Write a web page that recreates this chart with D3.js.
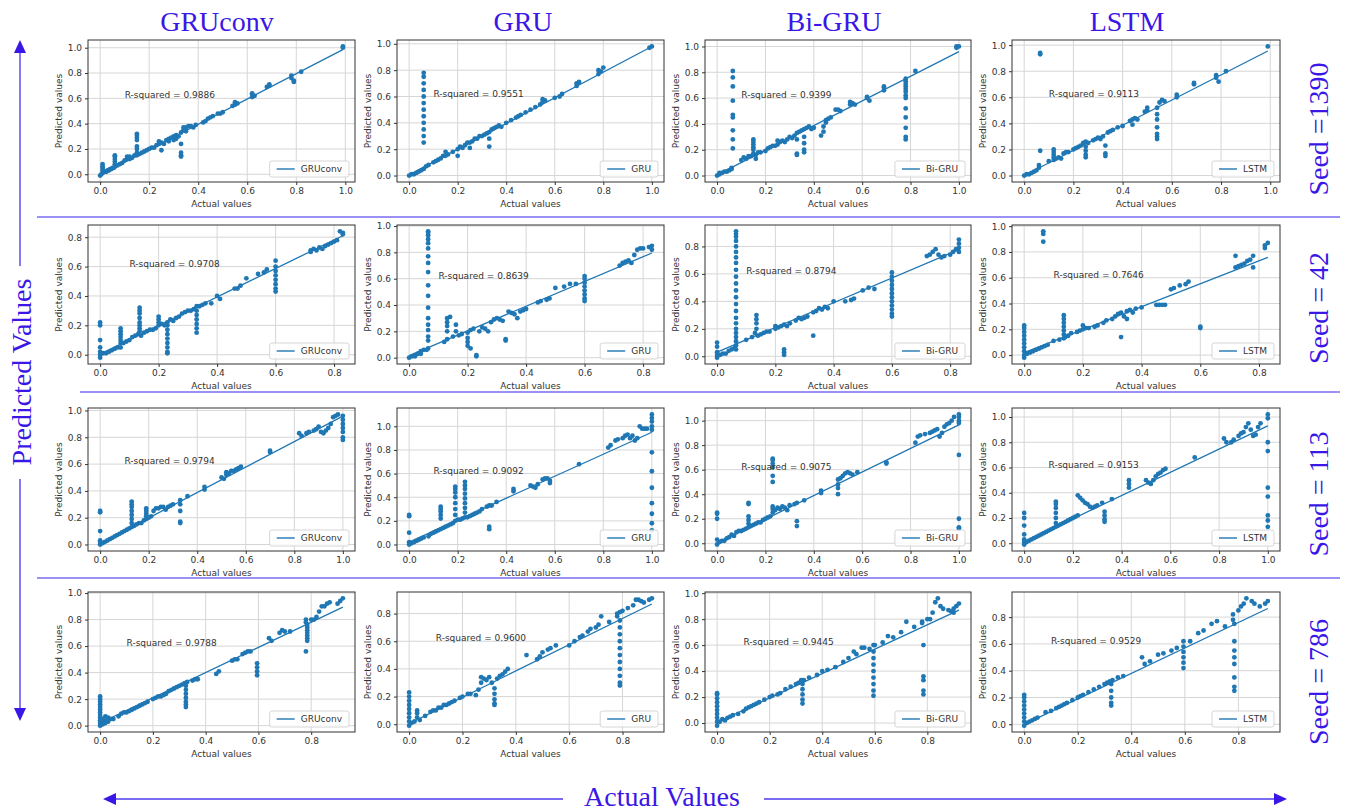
<!DOCTYPE html>
<html><head><meta charset="utf-8">
<script src="https://cdn.jsdelivr.net/npm/d3@7"></script>
<style>body{margin:0;background:#fff}svg{display:block}</style>
</head><body>
<svg id="chart" width="1345" height="811"></svg>
<script>
// ---------------- DATA ----------------
const models = ["GRUconv", "GRU", "Bi-GRU", "LSTM"];
const seeds = ["Seed =1390", "Seed = 42", "Seed = 113", "Seed = 786"];
const rSquared = [
  ["0.9886", "0.9551", "0.9399", "0.9113"],
  ["0.9708", "0.8639", "0.8794", "0.7646"],
  ["0.9794", "0.9092", "0.9075", "0.9153"],
  ["0.9788", "0.9600", "0.9445", "0.9529"]
];
// fitted regression line per panel: [slope, intercept]
const fitLines = [
  [[1.0, -0.005], [0.975, 0.005], [0.955, 0.005], [0.965, 0.0]],
  [[0.97, 0.005], [0.94, 0.015], [0.9, 0.03], [0.89, 0.02]],
  [[0.95, 0.008], [0.93, 0.02], [0.96, 0.005], [0.92, 0.01]],
  [[0.95, 0.02], [0.95, 0.005], [0.94, 0.005], [0.95, 0.0]]
];
const tickValues = [0, 0.2, 0.4, 0.6, 0.8, 1.0];
const xAxisLabel = "Actual values";
const yAxisLabel = "Predicted values";
const bigYLabel = "Predicted Values";
const bigXLabel = "Actual Values";

// scatter points [actual, predicted]
const s1390_GRUconv = [[0,-.01],[.005,0],[.01,.01],[.01,.03],[.01,.05],[.01,.06],[.01,.08],[.015,.02],[.02,.02],[.025,.02],[.03,.03],[.035,.03],[.04,.04],[.045,.04],[.05,.05],[.055,.05],[.06,.06],[.06,.08],[.06,.10],[.06,.12],[.06,.14],[.06,.15],[.07,.07],[.08,.08],[.09,.09],[.10,.11],[.11,.12],[.11,.14],[.12,.12],[.12,.14],[.13,.13],[.14,.15],[.15,.15],[.15,.17],[.15,.20],[.15,.22],[.15,.27],[.15,.29],[.15,.31],[.15,.32],[.16,.16],[.17,.17],[.18,.18],[.19,.19],[.20,.20],[.21,.21],[.22,.21],[.23,.23],[.24,.24],[.24,.26],[.25,.25],[.25,.19],[.26,.24],[.27,.27],[.28,.28],[.28,.26],[.29,.29],[.30,.30],[.30,.27],[.31,.31],[.31,.28],[.32,.30],[.33,.33],[.33,.24],[.33,.17],[.33,.15],[.33,.14],[.34,.35],[.34,.37],[.35,.37],[.35,.34],[.36,.38],[.37,.38],[.38,.37],[.39,.39],[.42,.41],[.43,.42],[.44,.44],[.45,.45],[.46,.46],[.48,.48],[.49,.48],[.50,.49],[.54,.54],[.55,.55],[.55,.57],[.56,.56],[.62,.61],[.62,.63],[.62,.64],[.63,.62],[.68,.69],[.69,.70],[.69,.71],[.78,.78],[.78,.76],[.79,.74],[.79,.73],[.82,.81],[.99,1.0],[.99,1.01]];
const s1390_GRU = [[0,0],[.01,.01],[.02,.01],[.03,.02],[.04,.03],[.05,.04],[.06,.05],[.06,.25],[.06,.3],[.06,.35],[.06,.4],[.06,.45],[.06,.5],[.06,.55],[.06,.6],[.06,.65],[.06,.7],[.06,.75],[.06,.78],[.07,.07],[.08,.08],[.1,.1],[.11,.11],[.12,.12],[.13,.13],[.14,.15],[.15,.15],[.15,.18],[.16,.16],[.18,.18],[.2,.2],[.2,.15],[.21,.22],[.22,.21],[.23,.23],[.24,.25],[.25,.25],[.25,.21],[.26,.26],[.27,.28],[.28,.28],[.29,.3],[.3,.3],[.31,.31],[.32,.32],[.33,.33],[.33,.28],[.33,.22],[.34,.35],[.35,.36],[.36,.37],[.37,.38],[.38,.37],[.4,.4],[.42,.42],[.44,.44],[.45,.45],[.46,.46],[.48,.48],[.5,.5],[.52,.52],[.54,.54],[.55,.56],[.55,.58],[.56,.57],[.6,.59],[.62,.6],[.63,.62],[.69,.68],[.69,.7],[.7,.71],[.78,.77],[.78,.8],[.79,.79],[.8,.82],[.99,.97],[1.0,.98]];
const s1390_BiGRU = [[0,0],[.01,.01],[.01,.02],[.02,.02],[.03,.03],[.04,.03],[.05,.04],[.06,.05],[.06,.06],[.065,.21],[.065,.28],[.065,.35],[.065,.45],[.065,.47],[.065,.58],[.065,.69],[.065,.76],[.065,.81],[.1,.12],[.11,.14],[.12,.13],[.13,.15],[.14,.15],[.15,.17],[.15,.2],[.15,.22],[.15,.24],[.15,.26],[.15,.28],[.16,.13],[.16,.16],[.17,.18],[.18,.18],[.2,.19],[.21,.21],[.22,.22],[.23,.23],[.24,.23],[.25,.24],[.25,.27],[.26,.26],[.27,.27],[.28,.26],[.29,.28],[.3,.3],[.31,.29],[.32,.31],[.33,.33],[.33,.28],[.33,.17],[.33,.16],[.34,.34],[.35,.35],[.36,.36],[.36,.3],[.36,.25],[.36,.2],[.36,.18],[.37,.37],[.38,.38],[.39,.36],[.4,.37],[.43,.31],[.44,.34],[.44,.38],[.45,.41],[.45,.43],[.46,.44],[.47,.45],[.49,.51],[.5,.51],[.51,.5],[.55,.55],[.55,.57],[.56,.56],[.57,.55],[.62,.61],[.62,.6],[.63,.58],[.69,.66],[.69,.68],[.69,.69],[.78,.75],[.78,.73],[.78,.71],[.78,.69],[.78,.67],[.78,.65],[.78,.62],[.78,.6],[.78,.52],[.78,.45],[.78,.37],[.78,.3],[.78,.28],[.82,.81],[.99,1.0],[.99,.99],[1.0,1.0]];
const s1390_LSTM = [[0,0],[.01,.01],[.02,.01],[.03,.02],[.04,.03],[.05,.04],[.06,.06],[.06,.08],[.065,.19],[.065,.93],[.065,.94],[.1,.11],[.12,.12],[.12,.14],[.12,.16],[.12,.18],[.12,.2],[.13,.13],[.14,.14],[.15,.13],[.16,.17],[.17,.18],[.18,.18],[.2,.2],[.21,.21],[.22,.22],[.23,.23],[.24,.25],[.25,.26],[.25,.22],[.25,.19],[.25,.16],[.25,.14],[.26,.25],[.28,.27],[.29,.28],[.3,.29],[.31,.28],[.32,.3],[.33,.23],[.33,.17],[.33,.15],[.34,.33],[.35,.34],[.36,.35],[.38,.37],[.4,.38],[.43,.42],[.44,.43],[.45,.44],[.44,.39],[.46,.43],[.49,.49],[.5,.5],[.5,.52],[.54,.52],[.54,.47],[.54,.43],[.54,.37],[.54,.32],[.54,.3],[.54,.28],[.55,.56],[.56,.58],[.57,.57],[.62,.6],[.62,.62],[.69,.7],[.69,.71],[.78,.77],[.78,.75],[.79,.72],[.82,.8],[.99,.99]];

const s42_GRUconv = [[0,-.02],[0,0],[0,.02],[0,.05],[0,.1],[0,.2],[0,.22],[.01,.01],[.02,.01],[.03,.02],[.04,.03],[.05,.04],[.06,.05],[.07,.05],[.07,.08],[.07,.1],[.07,.12],[.07,.14],[.07,.16],[.07,.18],[.08,.08],[.09,.09],[.1,.1],[.11,.12],[.12,.13],[.13,.14],[.135,.16],[.135,.18],[.135,.2],[.135,.22],[.135,.25],[.135,.28],[.135,.3],[.135,.32],[.14,.13],[.15,.15],[.16,.16],[.17,.17],[.18,.17],[.19,.18],[.2,.2],[.2,.22],[.2,.24],[.2,.26],[.21,.21],[.22,.2],[.23,.22],[.23,.2],[.23,.17],[.23,.14],[.23,.11],[.23,.08],[.23,.05],[.23,.02],[.23,.01],[.24,.24],[.25,.23],[.26,.25],[.27,.26],[.28,.28],[.29,.29],[.3,.3],[.31,.3],[.32,.31],[.33,.33],[.33,.3],[.33,.27],[.33,.24],[.33,.21],[.33,.18],[.33,.15],[.34,.33],[.35,.34],[.36,.35],[.38,.35],[.4,.4],[.41,.38],[.46,.45],[.47,.45],[.48,.47],[.5,.52],[.54,.55],[.56,.56],[.57,.58],[.6,.64],[.6,.6],[.6,.57],[.6,.54],[.6,.51],[.6,.48],[.6,.45],[.6,.43],[.72,.71],[.72,.7],[.73,.72],[.74,.71],[.75,.73],[.76,.72],[.77,.74],[.78,.75],[.79,.76],[.8,.77],[.81,.78],[.82,.84],[.83,.83],[.83,.82]];
const s42_GRU = [[0,0],[.01,.01],[.02,.01],[.02,.02],[.03,.03],[.04,.03],[.04,.05],[.05,.06],[.06,.06],[.065,.07],[.065,.13],[.065,.16],[.065,.21],[.065,.25],[.065,.3],[.065,.38],[.065,.47],[.065,.55],[.065,.65],[.065,.72],[.065,.77],[.065,.83],[.065,.87],[.065,.9],[.065,.93],[.065,.95],[.065,.96],[.12,.12],[.13,.14],[.13,.2],[.13,.24],[.13,.27],[.13,.3],[.14,.31],[.15,.16],[.16,.2],[.16,.25],[.17,.17],[.18,.18],[.2,.19],[.2,.15],[.2,.12],[.2,.09],[.21,.07],[.21,.21],[.22,.22],[.23,.01],[.23,.02],[.24,.2],[.25,.23],[.26,.22],[.27,.2],[.28,.27],[.29,.29],[.3,.3],[.31,.29],[.32,.28],[.33,.14],[.33,.13],[.34,.35],[.35,.34],[.36,.33],[.37,.3],[.38,.35],[.39,.36],[.4,.37],[.44,.42],[.45,.43],[.47,.44],[.48,.45],[.5,.53],[.53,.54],[.55,.56],[.57,.56],[.6,.62],[.6,.6],[.6,.57],[.6,.54],[.6,.51],[.6,.48],[.6,.45],[.6,.43],[.72,.7],[.73,.72],[.74,.73],[.75,.74],[.76,.72],[.77,.78],[.78,.82],[.79,.83],[.8,.83],[.82,.84],[.83,.85],[.83,.82]];
const s42_BiGRU = [[0,-.01],[0,.01],[0,.03],[0,.07],[0,.1],[.01,.01],[.02,.02],[.03,.02],[.04,.04],[.05,.05],[.06,.06],[.065,.05],[.065,.08],[.065,.11],[.065,.14],[.065,.17],[.065,.2],[.065,.24],[.065,.28],[.065,.33],[.065,.38],[.065,.43],[.065,.48],[.065,.53],[.065,.58],[.065,.63],[.065,.68],[.065,.72],[.065,.76],[.065,.8],[.065,.84],[.065,.87],[.065,.89],[.065,.91],[.1,.12],[.12,.14],[.13,.17],[.135,.2],[.135,.24],[.135,.27],[.135,.3],[.14,.15],[.15,.16],[.16,.17],[.17,.18],[.18,.18],[.2,.2],[.2,.22],[.21,.21],[.22,.22],[.23,.01],[.23,.03],[.23,.05],[.23,.23],[.24,.22],[.25,.24],[.27,.26],[.28,.28],[.29,.27],[.3,.28],[.31,.29],[.33,.15],[.33,.32],[.34,.33],[.35,.35],[.36,.34],[.37,.36],[.38,.35],[.4,.4],[.44,.4],[.46,.41],[.47,.42],[.5,.48],[.52,.5],[.54,.49],[.6,.61],[.6,.58],[.6,.55],[.6,.52],[.6,.49],[.6,.46],[.6,.43],[.6,.4],[.6,.37],[.6,.34],[.6,.31],[.6,.29],[.72,.73],[.73,.74],[.74,.76],[.75,.78],[.76,.74],[.77,.72],[.78,.73],[.8,.74],[.81,.76],[.82,.78],[.83,.85],[.83,.82],[.83,.79],[.83,.76]];
const s42_LSTM = [[0,-.02],[0,0],[0,.03],[0,.06],[0,.09],[0,.12],[0,.15],[0,.18],[0,.21],[0,.23],[.01,.01],[.02,.02],[.03,.03],[.04,.04],[.05,.05],[.06,.06],[.065,.88],[.065,.94],[.065,.96],[.07,.07],[.08,.08],[.1,.11],[.12,.12],[.135,.13],[.135,.16],[.135,.19],[.135,.22],[.135,.25],[.135,.28],[.135,.31],[.14,.14],[.15,.15],[.16,.17],[.18,.18],[.19,.19],[.2,.2],[.2,.23],[.21,.21],[.22,.21],[.24,.22],[.25,.23],[.27,.25],[.28,.27],[.3,.28],[.31,.3],[.32,.32],[.33,.14],[.33,.33],[.34,.3],[.35,.34],[.35,.28],[.36,.35],[.37,.33],[.38,.36],[.4,.37],[.45,.39],[.46,.39],[.47,.39],[.48,.39],[.5,.51],[.51,.52],[.53,.54],[.55,.55],[.56,.57],[.6,.21],[.6,.22],[.72,.77],[.72,.68],[.73,.69],[.74,.7],[.75,.71],[.76,.73],[.77,.74],[.78,.77],[.78,.68],[.82,.83],[.82,.85],[.83,.87]];

const s113_GRUconv = [[0,0],[0,.02],[0,.03],[0,.1],[0,.24],[0,.25],[.01,.01],[.02,.02],[.03,.03],[.04,.04],[.05,.05],[.06,.06],[.07,.07],[.08,.08],[.09,.09],[.1,.1],[.11,.11],[.12,.12],[.13,.13],[.13,.16],[.13,.19],[.13,.22],[.13,.25],[.13,.28],[.13,.3],[.13,.32],[.14,.14],[.15,.15],[.16,.16],[.17,.16],[.18,.18],[.19,.19],[.19,.21],[.19,.23],[.19,.25],[.19,.27],[.2,.2],[.21,.21],[.22,.25],[.23,.27],[.24,.27],[.25,.28],[.26,.28],[.27,.26],[.28,.28],[.29,.29],[.3,.3],[.33,.33],[.33,.3],[.33,.25],[.33,.17],[.33,.16],[.36,.36],[.43,.43],[.43,.41],[.5,.5],[.51,.49],[.52,.52],[.52,.54],[.53,.53],[.54,.55],[.55,.55],[.56,.56],[.57,.57],[.58,.58],[.7,.69],[.7,.7],[.82,.83],[.83,.81],[.85,.83],[.86,.84],[.88,.85],[.89,.86],[.9,.88],[.91,.84],[.92,.83],[.93,.85],[.94,.87],[.95,.9],[.96,.95],[.97,.96],[.98,.97],[1,.96],[1,.93],[1,.9],[1,.87],[1,.84],[1,.8],[1,.78]];
const s113_GRU = [[0,0],[0,.02],[0,.1],[0,.24],[0,.25],[.01,.01],[.02,.02],[.03,.03],[.04,.04],[.05,.05],[.06,.06],[.08,.07],[.09,.09],[.1,.1],[.11,.11],[.12,.12],[.13,.13],[.13,.22],[.13,.25],[.13,.28],[.13,.3],[.13,.32],[.14,.14],[.15,.15],[.16,.16],[.17,.17],[.18,.18],[.19,.2],[.19,.25],[.19,.3],[.19,.35],[.19,.4],[.19,.44],[.19,.47],[.19,.49],[.2,.21],[.21,.21],[.22,.22],[.23,.23],[.23,.27],[.23,.31],[.23,.35],[.23,.39],[.23,.43],[.23,.47],[.23,.5],[.23,.53],[.24,.23],[.25,.24],[.26,.25],[.27,.26],[.28,.27],[.29,.28],[.3,.3],[.32,.32],[.33,.33],[.33,.15],[.33,.13],[.34,.33],[.36,.36],[.43,.45],[.43,.47],[.5,.5],[.51,.49],[.52,.48],[.53,.51],[.55,.55],[.56,.56],[.57,.56],[.58,.54],[.58,.52],[.7,.68],[.82,.82],[.83,.84],[.85,.88],[.86,.89],[.88,.9],[.89,.92],[.9,.93],[.91,.9],[.92,.92],[.93,.88],[.94,.9],[.95,1.0],[.96,.98],[.97,.98],[.98,.98],[1,1.1],[1,1.07],[1,1.04],[1,1.0],[1,.97],[1,.78],[1,.62],[1,.48],[1,.35],[1,.26],[1,.18],[1,.12]];
const s113_BiGRU = [[0,-.01],[0,.03],[0,.2],[0,.24],[0,.25],[.01,.01],[.02,.02],[.03,.02],[.04,.04],[.05,.05],[.06,.07],[.07,.06],[.08,.09],[.09,.1],[.1,.1],[.11,.11],[.12,.12],[.13,.13],[.13,.16],[.13,.19],[.13,.22],[.13,.32],[.13,.33],[.14,.14],[.15,.15],[.16,.16],[.17,.17],[.18,.17],[.19,.19],[.2,.2],[.21,.21],[.22,.22],[.23,.25],[.23,.28],[.23,.3],[.23,.5],[.23,.55],[.23,.62],[.23,.65],[.23,.68],[.23,.69],[.24,.27],[.25,.29],[.26,.28],[.27,.3],[.28,.29],[.29,.27],[.3,.31],[.32,.32],[.33,.18],[.33,.14],[.33,.33],[.36,.35],[.43,.43],[.43,.41],[.5,.52],[.5,.48],[.5,.45],[.5,.4],[.51,.53],[.52,.55],[.53,.57],[.54,.58],[.55,.57],[.56,.56],[.58,.58],[.7,.66],[.7,.65],[.82,.82],[.83,.87],[.84,.88],[.86,.89],[.88,.9],[.89,.91],[.9,.92],[.91,.93],[.92,.87],[.93,.9],[.94,.95],[.95,.97],[.96,.98],[.97,1.0],[.98,1.03],[1,1.05],[1,1.03],[1,1.0],[1,.98],[1,.72],[1,.2],[1,.13],[1,.12]];
const s113_LSTM = [[0,-.01],[0,.01],[0,.03],[0,.07],[0,.14],[0,.2],[0,.24],[.01,.01],[.02,.02],[.03,.03],[.04,.04],[.05,.05],[.06,.06],[.07,.07],[.08,.08],[.09,.09],[.1,.1],[.11,.11],[.12,.12],[.13,.13],[.13,.16],[.13,.2],[.13,.24],[.13,.28],[.13,.31],[.13,.33],[.14,.14],[.15,.15],[.16,.16],[.17,.17],[.18,.18],[.19,.19],[.2,.2],[.21,.21],[.22,.38],[.22,.22],[.23,.36],[.24,.34],[.25,.32],[.26,.31],[.27,.29],[.28,.28],[.29,.29],[.3,.3],[.32,.32],[.33,.25],[.33,.22],[.33,.19],[.33,.17],[.36,.35],[.43,.44],[.43,.47],[.43,.5],[.5,.5],[.51,.48],[.52,.47],[.53,.5],[.54,.53],[.55,.55],[.56,.56],[.57,.58],[.58,.59],[.7,.68],[.82,.83],[.83,.8],[.85,.8],[.86,.82],[.88,.85],[.89,.87],[.9,.88],[.91,.92],[.92,.95],[.93,.9],[.94,.85],[.95,.86],[.96,.92],[.97,.95],[1,1.02],[1,.99],[1,.8],[1,.73],[1,.44],[1,.37],[1,.22],[1,.18],[1,.13]];

const s786_GRUconv = [[0,0],[0,.02],[0,.04],[0,.06],[0,.08],[0,.1],[0,.12],[0,.14],[0,.16],[0,.18],[0,.2],[0,.22],[.01,.01],[.01,.05],[.015,.03],[.02,.02],[.02,.07],[.025,.04],[.03,.03],[.03,.06],[.04,.05],[.05,.05],[.07,.07],[.08,.09],[.09,.1],[.1,.1],[.11,.11],[.12,.12],[.13,.13],[.14,.14],[.15,.15],[.16,.16],[.17,.17],[.18,.18],[.2,.2],[.21,.21],[.22,.22],[.23,.22],[.24,.23],[.25,.24],[.26,.26],[.27,.27],[.28,.28],[.29,.29],[.3,.3],[.31,.31],[.32,.32],[.325,.3],[.325,.27],[.325,.24],[.325,.21],[.325,.18],[.325,.16],[.325,.14],[.33,.33],[.35,.34],[.36,.35],[.37,.35],[.44,.39],[.45,.41],[.5,.49],[.51,.5],[.52,.5],[.54,.54],[.55,.55],[.56,.56],[.57,.56],[.595,.47],[.595,.44],[.595,.41],[.595,.38],[.64,.66],[.65,.64],[.68,.7],[.69,.72],[.7,.71],[.72,.71],[.78,.8],[.78,.78],[.785,.76],[.785,.74],[.785,.72],[.785,.7],[.785,.68],[.785,.66],[.785,.64],[.78,.56],[.8,.8],[.81,.8],[.82,.82],[.83,.86],[.84,.9],[.85,.9],[.86,.92],[.87,.93],[.9,.92],[.91,.94],[.92,.96]];
const s786_GRU = [[0,-.01],[0,.02],[0,.05],[0,.08],[0,.11],[0,.14],[0,.17],[0,.2],[0,.23],[.01,.01],[.02,.02],[.03,.05],[.03,.08],[.03,.1],[.04,.03],[.06,.06],[.08,.09],[.09,.1],[.1,.1],[.11,.12],[.12,.12],[.13,.14],[.14,.14],[.15,.15],[.16,.16],[.17,.17],[.19,.19],[.2,.2],[.22,.22],[.23,.22],[.25,.21],[.26,.25],[.27,.3],[.27,.34],[.28,.33],[.29,.32],[.3,.34],[.31,.3],[.32,.26],[.32,.22],[.32,.18],[.32,.15],[.32,.14],[.33,.33],[.34,.35],[.35,.36],[.36,.38],[.37,.4],[.44,.5],[.48,.47],[.49,.49],[.5,.52],[.52,.54],[.53,.55],[.55,.57],[.6,.57],[.62,.6],[.64,.63],[.65,.64],[.67,.67],[.68,.69],[.7,.7],[.71,.72],[.72,.78],[.75,.74],[.78,.78],[.78,.8],[.79,.81],[.79,.75],[.79,.7],[.79,.65],[.79,.6],[.79,.55],[.79,.5],[.79,.45],[.79,.4],[.79,.35],[.79,.3],[.79,.28],[.8,.82],[.82,.84],[.84,.86],[.85,.9],[.86,.9],[.87,.89],[.88,.88],[.9,.9],[.91,.91]];
const s786_BiGRU = [[0,-.02],[0,.01],[0,.04],[0,.07],[0,.1],[0,.13],[0,.16],[0,.19],[0,.22],[0,.23],[.01,.01],[.02,.03],[.03,.02],[.04,.04],[.05,.05],[.06,.06],[.08,.07],[.1,.09],[.11,.11],[.12,.12],[.13,.13],[.14,.14],[.15,.15],[.16,.16],[.18,.18],[.2,.2],[.21,.21],[.23,.22],[.24,.23],[.26,.26],[.28,.28],[.3,.3],[.31,.31],[.32,.33],[.325,.3],[.325,.26],[.325,.22],[.325,.18],[.325,.15],[.33,.33],[.35,.35],[.38,.37],[.4,.4],[.42,.41],[.45,.43],[.48,.47],[.5,.5],[.52,.55],[.53,.53],[.55,.58],[.56,.58],[.58,.57],[.595,.6],[.595,.55],[.595,.5],[.595,.45],[.595,.4],[.595,.35],[.595,.3],[.595,.25],[.595,.21],[.6,.6],[.63,.62],[.65,.67],[.67,.66],[.7,.7],[.72,.78],[.75,.74],[.78,.78],[.78,.77],[.785,.6],[.785,.36],[.785,.33],[.785,.25],[.785,.22],[.8,.8],[.81,.8],[.82,.85],[.83,.93],[.84,.96],[.85,.9],[.86,.88],[.88,.87],[.89,.86],[.9,.85],[.9,.88],[.91,.9],[.92,.92]];
const s786_LSTM = [[0,-.01],[0,.02],[0,.05],[0,.08],[0,.11],[0,.14],[0,.17],[0,.2],[0,.22],[.01,.01],[.02,.02],[.03,.03],[.04,.04],[.05,.05],[.08,.09],[.1,.1],[.12,.12],[.13,.13],[.14,.14],[.15,.15],[.16,.16],[.18,.18],[.2,.2],[.21,.21],[.22,.22],[.24,.24],[.26,.26],[.28,.28],[.3,.3],[.31,.31],[.32,.32],[.325,.3],[.325,.25],[.325,.2],[.325,.16],[.325,.14],[.33,.33],[.35,.35],[.37,.36],[.44,.5],[.45,.45],[.47,.47],[.5,.52],[.52,.53],[.55,.55],[.57,.57],[.595,.62],[.595,.58],[.595,.54],[.595,.5],[.595,.46],[.595,.42],[.62,.62],[.65,.68],[.67,.7],[.7,.75],[.72,.77],[.75,.73],[.78,.78],[.78,.82],[.785,.75],[.785,.62],[.785,.55],[.785,.5],[.785,.45],[.785,.35],[.785,.28],[.785,.25],[.8,.85],[.81,.88],[.82,.9],[.83,.94],[.85,.92],[.86,.9],[.88,.88],[.9,.9],[.91,.92]];

const panelData = [
  [s1390_GRUconv, s1390_GRU, s1390_BiGRU, s1390_LSTM],
  [s42_GRUconv, s42_GRU, s42_BiGRU, s42_LSTM],
  [s113_GRUconv, s113_GRU, s113_BiGRU, s113_LSTM],
  [s786_GRUconv, s786_GRU, s786_BiGRU, s786_LSTM]
];

// ---------------- LAYOUT ----------------
const colLeft = [88, 397, 705, 1012], colRight = [355, 664, 971, 1280];
const rowTop = [40, 225, 408, 592], rowBottom = [182, 364, 551, 732];
const dotColor = "#1f77b4";
const accent = "#3a17e6", accentLine = "#7a6cf0";
const tickFont = "DejaVu Sans";

const svg = d3.select("#chart");
svg.append("rect").attr("width", 1345).attr("height", 811).attr("fill", "#fff");

function padded(ext) {
  const r = ext[1] - ext[0];
  return [ext[0] - 0.05 * r, ext[1] + 0.05 * r];
}

panelData.forEach((row, ri) => {
  row.forEach((data, ci) => {
    const x0 = colLeft[ci], x1 = colRight[ci], y0 = rowTop[ri], y1 = rowBottom[ri];
    const xs = d3.scaleLinear().domain(padded(d3.extent(data, d => d[0]))).range([x0, x1]);
    const ys = d3.scaleLinear().domain(padded(d3.extent(data, d => d[1]))).range([y1, y0]);
    const xt = tickValues.filter(v => v >= xs.domain()[0] - 1e-9 && v <= xs.domain()[1] + 1e-9);
    const yt = tickValues.filter(v => v >= ys.domain()[0] - 1e-9 && v <= ys.domain()[1] + 1e-9);
    const g = svg.append("g");

    // grid
    g.append("g").selectAll("line").data(xt).join("line")
      .attr("x1", d => xs(d)).attr("x2", d => xs(d)).attr("y1", y0).attr("y2", y1)
      .attr("stroke", "#d6d6d6").attr("stroke-width", 1);
    g.append("g").selectAll("line").data(yt).join("line")
      .attr("y1", d => ys(d)).attr("y2", d => ys(d)).attr("x1", x0).attr("x2", x1)
      .attr("stroke", "#d6d6d6").attr("stroke-width", 1);

    // points
    g.append("g").selectAll("circle").data(data).join("circle")
      .attr("cx", d => xs(d[0])).attr("cy", d => ys(d[1])).attr("r", 2.4)
      .attr("fill", dotColor);

    // regression line
    const [m, b] = fitLines[ri][ci];
    const xe = d3.extent(data, d => d[0]);
    g.append("path")
      .attr("d", d3.line()(xe.map(v => [xs(v), ys(m * v + b)])))
      .attr("stroke", dotColor).attr("stroke-width", 1.3).attr("fill", "none");

    // axes
    const ax = g.append("g").attr("transform", `translate(0,${y1})`)
      .call(d3.axisBottom(xs).tickValues(xt).tickFormat(d3.format(".1f")).tickSize(3).tickPadding(3));
    const ay = g.append("g").attr("transform", `translate(${x0},0)`)
      .call(d3.axisLeft(ys).tickValues(yt).tickFormat(d3.format(".1f")).tickSize(3).tickPadding(3));
    [ax, ay].forEach(a => {
      a.select(".domain").remove();
      a.selectAll("line").attr("stroke", "#333");
      a.selectAll("text").attr("font-family", tickFont).attr("font-size", 9).attr("fill", "#333");
    });

    // frame
    g.append("rect").attr("x", x0).attr("y", y0).attr("width", x1 - x0).attr("height", y1 - y0)
      .attr("fill", "none").attr("stroke", "#333").attr("stroke-width", 1);

    // axis labels
    g.append("text").attr("x", (x0 + x1) / 2).attr("y", y1 + 25).attr("text-anchor", "middle")
      .attr("font-family", tickFont).attr("font-size", 9).attr("fill", "#333").text(xAxisLabel);
    g.append("text").attr("transform", `translate(${x0 - 26},${(y0 + y1) / 2}) rotate(-90)`)
      .attr("text-anchor", "middle").attr("font-family", tickFont).attr("font-size", 9)
      .attr("fill", "#333").text(yAxisLabel);

    // R-squared annotation at data (0.1, 0.6)
    g.append("text").attr("x", xs(0.1)).attr("y", ys(0.6)).attr("font-family", tickFont)
      .attr("font-size", 9).attr("fill", "#333").text("R-squared = " + rSquared[ri][ci]);

    // legend
    const lg = g.append("g");
    const lt = lg.append("text").attr("font-family", tickFont).attr("font-size", 9).attr("fill", "#333")
      .text(models[ci]);
    const tw = lt.node().getComputedTextLength();
    const lw = 8 + 18 + 6 + tw + 6, lh = 16;
    const lx = x1 - 6 - lw, ly = y1 - 5 - lh;
    lg.insert("rect", "text").attr("x", lx).attr("y", ly).attr("width", lw).attr("height", lh)
      .attr("rx", 2).attr("fill", "#fff").attr("fill-opacity", 0.85)
      .attr("stroke", "#cccccc").attr("stroke-width", 0.8);
    lg.append("line").attr("x1", lx + 7).attr("x2", lx + 25).attr("y1", ly + lh / 2).attr("y2", ly + lh / 2)
      .attr("stroke", dotColor).attr("stroke-width", 1.4);
    lt.attr("x", lx + 31).attr("y", ly + lh / 2 + 3.2);
  });
});

// ---------------- DECORATION ----------------
const titleX = [217, 523, 834, 1127];
svg.append("g").selectAll("text").data(models).join("text")
  .attr("x", (d, i) => titleX[i]).attr("y", 31).attr("text-anchor", "middle")
  .attr("font-family", "Liberation Serif").attr("font-size", 28).attr("fill", accent)
  .text(d => d);

const seedY = [129, 308, 494, 682];
svg.append("g").selectAll("text").data(seeds).join("text")
  .attr("transform", (d, i) => `translate(1328,${seedY[i]}) rotate(-90)`)
  .attr("text-anchor", "middle").attr("font-family", "Liberation Serif")
  .attr("font-size", 28).attr("fill", accent).text(d => d);

// separators
const sepY = [217, 392, 578], sepStart = [37, 80, 37];
sepY.forEach((y, i) => {
  svg.append("line").attr("x1", sepStart[i]).attr("x2", 1340).attr("y1", y).attr("y2", y)
    .attr("stroke", accentLine).attr("stroke-width", 1.6);
});

// left vertical arrow
[[52, 266], [479, 709]].forEach(([a, b]) => {
  svg.append("line").attr("x1", 20).attr("x2", 20).attr("y1", a).attr("y2", b)
    .attr("stroke", accentLine).attr("stroke-width", 1.8);
});
svg.append("path").attr("d", "M20,40 L14,53 L26,53 Z").attr("fill", accent);
svg.append("path").attr("d", "M20,721 L14,708 L26,708 Z").attr("fill", accent);
svg.append("text").attr("transform", "translate(31,372) rotate(-90)").attr("text-anchor", "middle")
  .attr("font-family", "Liberation Serif").attr("font-size", 28).attr("fill", accent).text(bigYLabel);

// bottom horizontal arrow
[[114, 563], [764, 1276]].forEach(([a, b]) => {
  svg.append("line").attr("x1", a).attr("x2", b).attr("y1", 799).attr("y2", 799)
    .attr("stroke", accentLine).attr("stroke-width", 1.8);
});
svg.append("path").attr("d", "M103,799 L116,793 L116,805 Z").attr("fill", accent);
svg.append("path").attr("d", "M1287,799 L1274,793 L1274,805 Z").attr("fill", accent);
svg.append("text").attr("x", 662).attr("y", 806).attr("text-anchor", "middle")
  .attr("font-family", "Liberation Serif").attr("font-size", 28).attr("fill", accent).text(bigXLabel);
</script>
</body></html>
